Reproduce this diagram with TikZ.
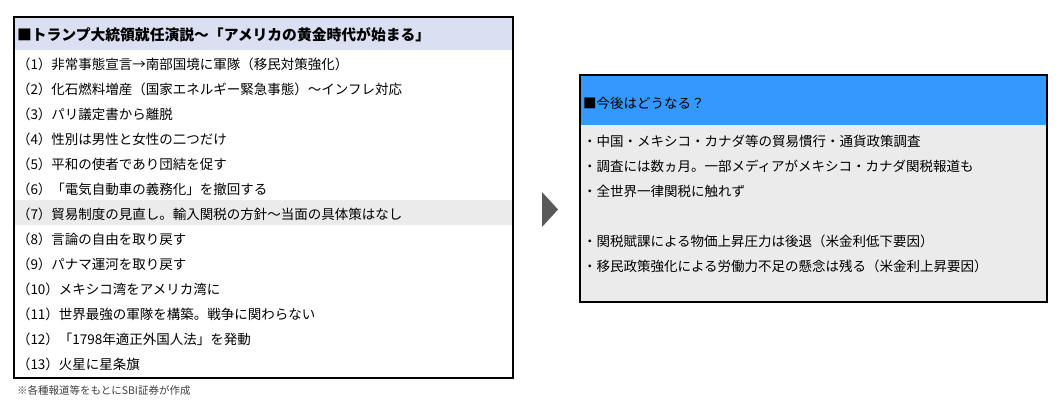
\documentclass[tikz,border=0pt]{standalone}
\usepackage{fontspec}
\setmainfont{Noto Sans CJK JP}
\usepackage{tikz}
\usetikzlibrary{positioning}

\definecolor{titleblue}{HTML}{DAE0F1}
\definecolor{rowgray}{HTML}{EBEBEB}
\definecolor{headblue}{HTML}{3399FF}
\definecolor{bodygray}{HTML}{EBEBEB}
\definecolor{arrowgray}{HTML}{595959}
\definecolor{notegray}{HTML}{404040}

\begin{document}
\begin{tikzpicture}[x = 1pt, y = -1pt,
    every node/.style = { font = \fontsize{13.5}{15}\selectfont, text = black, outer sep = 0pt },
    row/.style = { anchor = north west, inner xsep = 3pt, inner ysep = 0pt,
                   text width = 493pt, minimum height = 25pt, align = left,
                   text height = 14pt, text depth = 0pt },
    line/.style = { anchor = north west, inner xsep = 3pt, inner ysep = 0pt,
                    text width = 461pt, minimum height = 25pt, align = left,
                    text height = 14pt, text depth = 0pt },
    frame/.style = { draw = black, line width = 1.6pt }]
    \useasboundingbox (0,0) rectangle (1059,407);

    % left box
    \node [row, fill = titleblue, minimum height = 33pt, font = \fontsize{14.8}{16}\selectfont\bfseries]
        (title) at (14,17) {■トランプ大統領就任演説～「アメリカの黄金時代が始まる」};
    \node [row, below = 0pt of title] (r1) {（1）非常事態宣言→南部国境に軍隊（移民対策強化）};
    \node [row, below = 0pt of r1] (r2) {（2）化石燃料増産（国家エネルギー緊急事態）～インフレ対応};
    \node [row, below = 0pt of r2] (r3) {（3）パリ議定書から離脱};
    \node [row, below = 0pt of r3] (r4) {（4）性別は男性と女性の二つだけ};
    \node [row, below = 0pt of r4] (r5) {（5）平和の使者であり団結を促す};
    \node [row, below = 0pt of r5] (r6) {（6）「電気自動車の義務化」を撤回する};
    \node [row, below = 0pt of r6, fill = rowgray] (r7) {（7）貿易制度の見直し。輸入関税の方針～当面の具体策はなし};
    \node [row, below = 0pt of r7] (r8) {（8）言論の自由を取り戻す};
    \node [row, below = 0pt of r8] (r9) {（9）パナマ運河を取り戻す};
    \node [row, below = 0pt of r9] (r10) {（10）メキシコ湾をアメリカ湾に};
    \node [row, below = 0pt of r10] (r11) {（11）世界最強の軍隊を構築。戦争に関わらない};
    \node [row, below = 0pt of r11] (r12) {（12）「1798年適正外国人法」を発動};
    \node [row, below = 0pt of r12] (r13) {（13）火星に星条旗};
    \draw [frame] (title.north west) rectangle ([yshift = -3pt]r13.south east);

    \node [anchor = north west, inner sep = 0pt, text = notegray, font = \fontsize{10.5}{12}\selectfont]
        (note) at (17,386) {※各種報道等をもとにSBI証券が作成};

    % arrow
    \fill [arrowgray] (542,192) -- (558,209.5) -- (542,227) -- cycle;

    % right box
    \fill [bodygray] (580,125) rectangle (1047,302);
    \node [line, fill = headblue, minimum width = 467pt, minimum height = 50pt, text height = 16pt]
        (head) at (580,75) {■今後はどうなる？};
    \node [line, below = 2pt of head] (b1) {・中国・メキシコ・カナダ等の貿易慣行・通貨政策調査};
    \node [line, below = 0pt of b1] (b2) {・調査には数ヵ月。一部メディアがメキシコ・カナダ関税報道も};
    \node [line, below = 0pt of b2] (b3) {・全世界一律関税に触れず};
    \node [line, below = 25pt of b3] (b4) {・関税賦課による物価上昇圧力は後退（米金利低下要因）};
    \node [line, below = 0pt of b4] (b5) {・移民政策強化による労働力不足の懸念は残る（米金利上昇要因）};
    \draw [frame] (head.north west) rectangle (1047,302);

\end{tikzpicture}
\end{document}
